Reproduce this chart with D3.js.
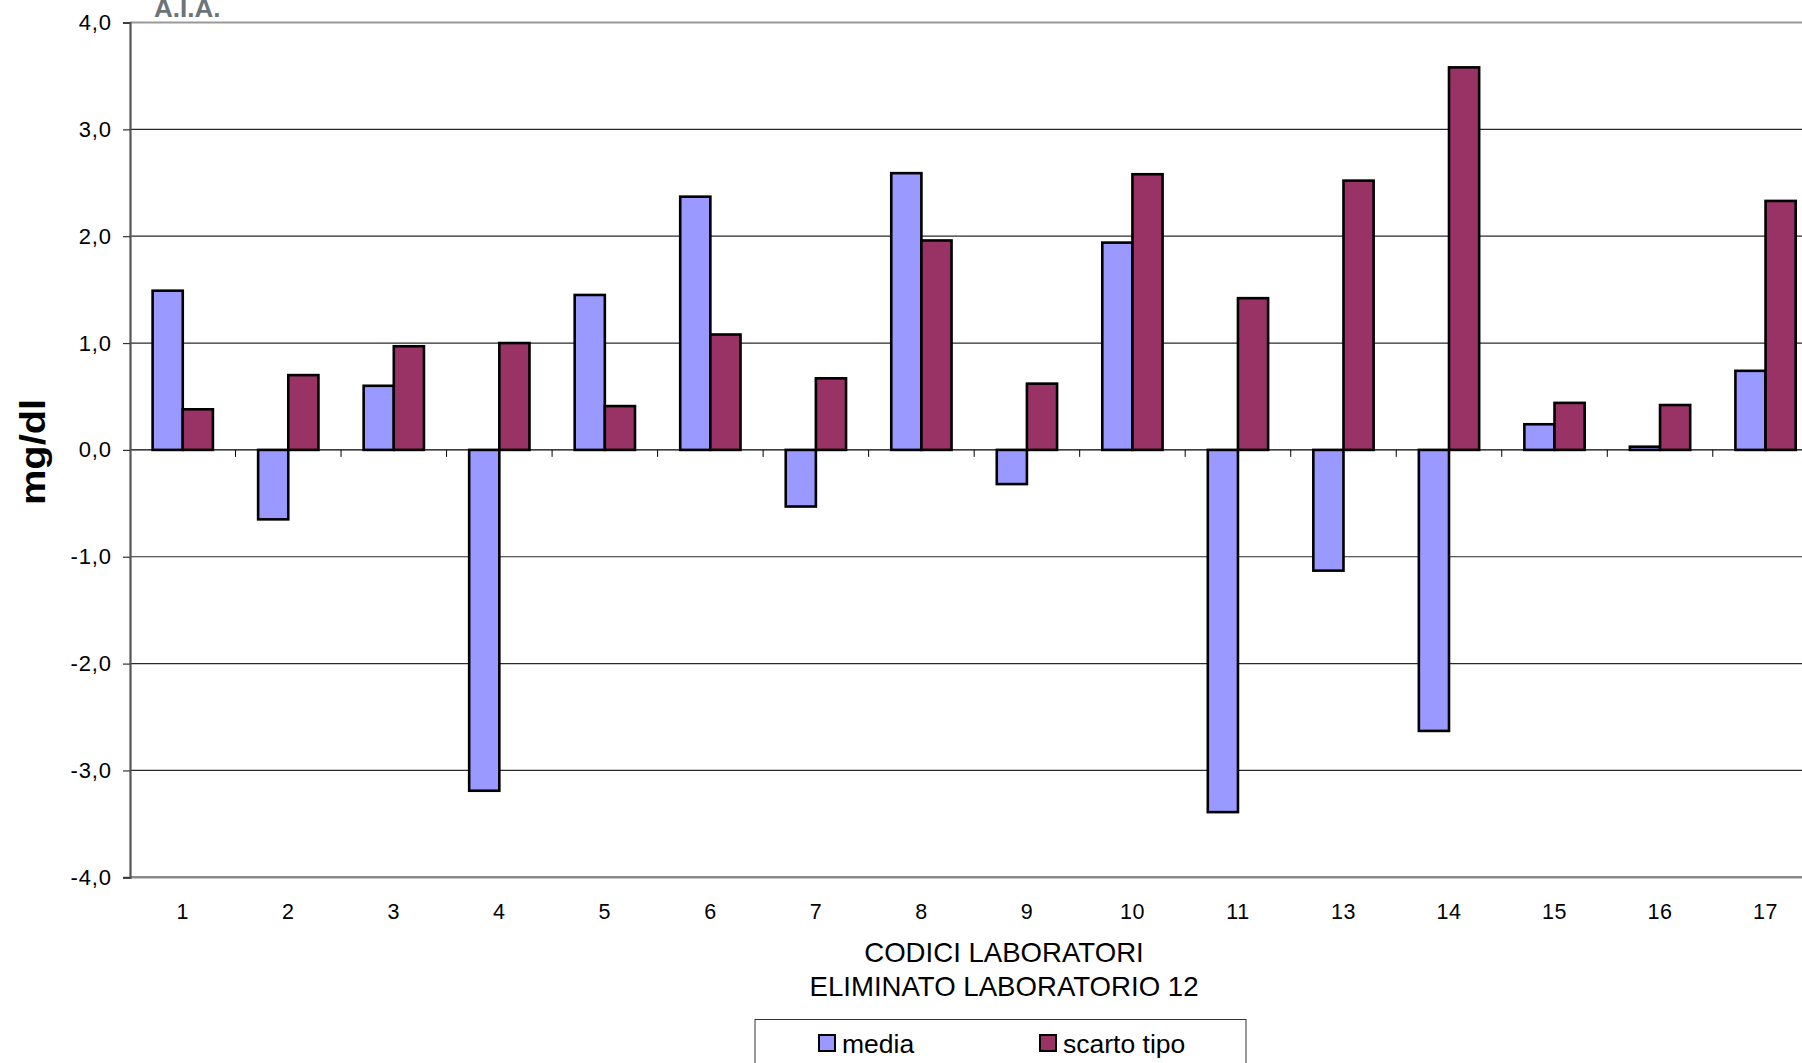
<!DOCTYPE html>
<html>
<head>
<meta charset="utf-8">
<script src="https://cdn.jsdelivr.net/npm/d3@7"></script>
<style>
  html, body { margin: 0; padding: 0; background: #fff; overflow: hidden; }
  svg { display: block; font-family: "Liberation Sans", Arial, sans-serif; }
</style>
</head>
<body>
<svg id="chart" width="1802" height="1063"></svg>
<script>
// Laboratory codes (lab 12 excluded)
const categories = ["1","2","3","4","5","6","7","8","9","10","11","13","14","15","16","17"];
// Mean deviation per lab (mg/dl)
const media = [1.49, -0.65, 0.60, -3.19, 1.45, 2.37, -0.53, 2.59, -0.32, 1.94, -3.39, -1.13, -2.63, 0.24, 0.03, 0.74];
// Standard deviation per lab (mg/dl)
const scartoTipo = [0.38, 0.70, 0.97, 1.00, 0.41, 1.08, 0.67, 1.96, 0.62, 2.58, 1.42, 2.52, 3.58, 0.44, 0.42, 2.33];
const seriesNames = ["media", "scarto tipo"];
const seriesColors = ["#9999FF", "#993366"];
const yTicks = [-4, -3, -2, -1, 0, 1, 2, 3, 4];

const svg = d3.select("#chart");

const plot = { left: 130, top: 22.5, bottom: 877.3, bandW: 105.52 };
plot.right = plot.left + plot.bandW * categories.length;

const x = d3.scaleBand().domain(categories).range([plot.left, plot.right]).padding(0);
const barW = x.bandwidth() / 3.5;          // gap width 150%
const x1 = d3.scaleBand().domain(seriesNames)
  .range([0.75 * barW, x.bandwidth() - 0.75 * barW]).padding(0);
const y = d3.scaleLinear().domain([-4, 4]).range([plot.bottom, plot.top]);

const itLocale = d3.formatLocale({ decimal: ",", thousands: ".", grouping: [3], currency: ["", " €"], minus: "-" });
const fmt = itLocale.format(".1f");

// Horizontal gridlines
svg.append("g").selectAll("line")
  .data(yTicks.filter(v => v !== 4 && v !== -4 && v !== 0))
  .join("line")
  .attr("x1", plot.left).attr("x2", plot.right)
  .attr("y1", d => y(d)).attr("y2", d => y(d))
  .attr("stroke", "#2a2a2a").attr("stroke-width", 1.2);

// Plot area border (top and bottom)
svg.append("line")
  .attr("x1", plot.left).attr("x2", plot.right)
  .attr("y1", y(4)).attr("y2", y(4))
  .attr("stroke", "#9a9a9a").attr("stroke-width", 2.2);
svg.append("line")
  .attr("x1", plot.left).attr("x2", plot.right)
  .attr("y1", y(-4)).attr("y2", y(-4))
  .attr("stroke", "#8a8a8a").attr("stroke-width", 2.6);

// Bars
const rows = categories.map((c, i) => ({ cat: c, values: [media[i], scartoTipo[i]] }));
const groups = svg.append("g").selectAll("g")
  .data(rows).join("g")
  .attr("transform", d => `translate(${x(d.cat)},0)`);
groups.selectAll("rect")
  .data(d => d.values.map((v, k) => ({ key: seriesNames[k], v, k })))
  .join("rect")
  .attr("x", d => x1(d.key))
  .attr("width", x1.bandwidth())
  .attr("y", d => Math.min(y(d.v), y(0)))
  .attr("height", d => Math.abs(y(d.v) - y(0)))
  .attr("fill", d => seriesColors[d.k])
  .attr("stroke", "#000").attr("stroke-width", 2.6);

// Category axis at zero, ticks between categories
const xAxisG = svg.append("g");
xAxisG.append("line")
  .attr("x1", plot.left).attr("x2", plot.right)
  .attr("y1", y(0)).attr("y2", y(0))
  .attr("stroke", "#000").attr("stroke-width", 1.3);
xAxisG.selectAll("line.tk")
  .data(categories.slice(1).concat(["end"]))
  .join("line").attr("class", "tk")
  .attr("x1", (d, i) => plot.left + (i + 1) * x.bandwidth())
  .attr("x2", (d, i) => plot.left + (i + 1) * x.bandwidth())
  .attr("y1", y(0)).attr("y2", y(0) + 7)
  .attr("stroke", "#000").attr("stroke-width", 1);

// Category labels below the plot
svg.append("g").selectAll("text")
  .data(categories).join("text")
  .attr("x", d => x(d) + x.bandwidth() / 2)
  .attr("y", 919)
  .attr("text-anchor", "middle")
  .attr("font-size", 21.5)
  .attr("letter-spacing", 0.5)
  .attr("fill", "#000")
  .text(d => d);

// Value axis
const yAxis = d3.axisLeft(y).tickValues(yTicks).tickFormat(fmt).tickSize(7).tickPadding(11);
const yAxisG = svg.append("g").attr("transform", `translate(${plot.left},0)`).call(yAxis);
yAxisG.select(".domain").attr("stroke", "#555").attr("stroke-width", 2.2);
yAxisG.selectAll(".tick line").attr("stroke", "#333").attr("stroke-width", 1.2);
yAxisG.selectAll(".tick text").attr("font-size", 22).attr("fill", "#000")
  .attr("letter-spacing", 0.9)
  .attr("font-family", "Liberation Sans, Arial, sans-serif");

// Axis titles
svg.append("text")
  .attr("transform", "translate(45,452) rotate(-90)")
  .attr("text-anchor", "middle")
  .attr("font-size", 35).attr("font-weight", "bold")
  .attr("textLength", 106).attr("lengthAdjust", "spacingAndGlyphs")
  .text("mg/dl");

const xt = svg.append("text").attr("text-anchor", "middle").attr("font-size", 27.6).attr("fill", "#000");
xt.append("tspan").attr("x", 1004).attr("y", 962).text("CODICI LABORATORI");
xt.append("tspan").attr("x", 1004).attr("y", 995.5).text("ELIMINATO LABORATORIO 12");

// Logo text
svg.append("text")
  .attr("x", 154).attr("y", 16.5)
  .attr("font-size", 26).attr("font-weight", "bold")
  .attr("fill", "#6b7579")
  .text("A.I.A.");

// Legend
const lg = svg.append("g");
lg.append("rect")
  .attr("x", 755).attr("y", 1019.5).attr("width", 491).attr("height", 70)
  .attr("fill", "#fff").attr("stroke", "#333").attr("stroke-width", 1);
const legendX = [819, 1040];
seriesNames.forEach((name, k) => {
  lg.append("rect")
    .attr("x", legendX[k]).attr("y", 1035).attr("width", 16).attr("height", 16)
    .attr("fill", seriesColors[k]).attr("stroke", "#000").attr("stroke-width", 2);
  lg.append("text")
    .attr("x", legendX[k] + 23).attr("y", 1053)
    .attr("font-size", 26.5).attr("fill", "#000")
    .text(name);
});
</script>
</body>
</html>
